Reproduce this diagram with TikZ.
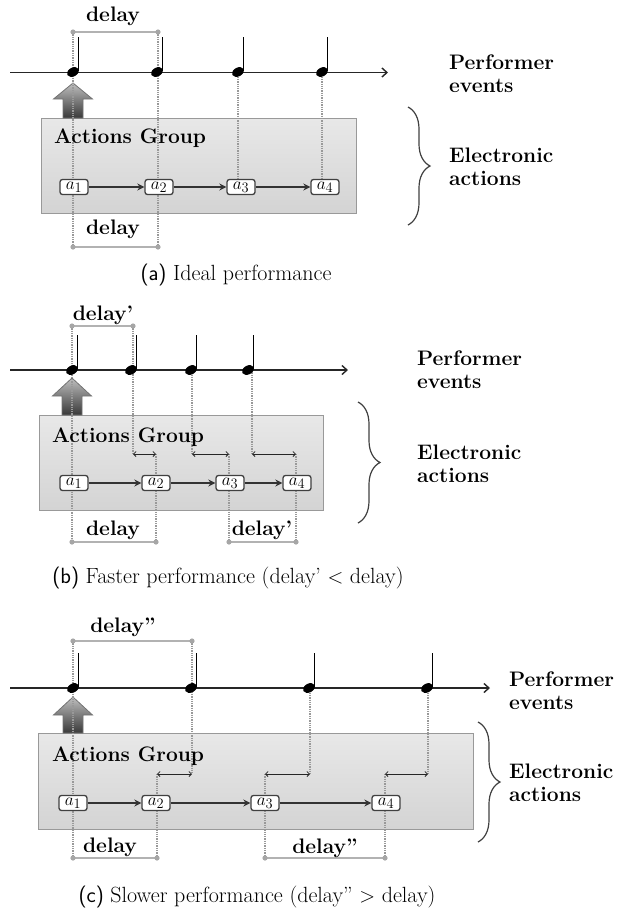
\documentclass[tikz,border=0pt]{standalone}
\usepackage{fontspec}
\usetikzlibrary{arrows.meta,decorations.pathreplacing}
\pgfdeclarelayer{bg}
\pgfdeclarelayer{mid}
\pgfsetlayers{bg,mid,main}
\newcommand{\qnote}[3]{%
  \coordinate (#1) at (#2,#3);
  \fill[black, rotate around={28:(#1)}] (#1) ellipse (6.4 and 4.4);
  \draw[line width=1.3pt] ([xshift=5.8pt,yshift=1pt]#1) -- ++(0,-34);
}
\newcommand{\bigup}[4]{%
  \path[bigarr] (#1-10,#4) -- (#1-10,#3) -- (#1-19.5,#3) -- (#1,#2) -- (#1+19.5,#3) -- (#1+10,#3) -- (#1+10,#4) -- cycle;
}
\newcommand{\brk}[2]{%
  \draw[bracket] (#1) -- (#2);
  \fill[black!35] (#1) circle (2.6) (#2) circle (2.6);
}
\tikzset{
 timeline/.style={line width=1.6pt, black!85, -{Straight Barb[length=5pt,width=9pt,line width=1.4pt]}},
 guide/.style={black!40, line width=1.3pt, dash pattern=on 1.3pt off 1pt},
 bracket/.style={black!30, line width=1.8pt},
 gbox/.style={draw=black!40, line width=0.9pt, top color=black!9, bottom color=black!17, inner sep=0pt},
 act/.style={draw=black!75, fill=white, rounded corners=2.5pt, line width=1.3pt, minimum width=28pt, minimum height=15pt, inner sep=0pt, font=\fontsize{19}{19}\selectfont},
 aarr/.style={line width=1.6pt, black!80, -{Stealth[length=7pt,width=7pt]}},
 dbl/.style={black!85, line width=0.8pt, {Straight Barb[length=2.5pt,width=5pt]}-{Straight Barb[length=2.5pt,width=5pt]}},
 lbl/.style={font=\fontsize{21}{23}\selectfont\bfseries, inner sep=0pt},
 side/.style={lbl, align=left, anchor=west},
 captxt/.style={font=\fontsize{22}{24}\selectfont, inner sep=0pt},
 brc/.style={black!75, line width=1.2pt, decorate, decoration={brace, amplitude=22pt, aspect=0.5}},
 bigarr/.style={draw=black!55, line width=0.8pt, top color=black!25, bottom color=black!78},
}
\begin{document}
\begin{tikzpicture}[x=1pt,y=-1pt]
\useasboundingbox (0,0) rectangle (621,914);
%================ panel (a)
\begin{pgfonlayer}{bg}
\node[gbox, minimum width=315pt, minimum height=95pt] (boxa) at (198.5,165.5) {};
\bigup{73}{83}{99}{118}
\end{pgfonlayer}
\node[lbl, anchor=west] (aga) at (54,138) {Actions Group};
\coordinate (ta0) at (10,72.5); \coordinate (ta1) at (388,72.5);
\coordinate (pa1) at (73,32); \coordinate (pa2) at (158,32);
\coordinate (qa1) at (73,247); \coordinate (qa2) at (158,247);
\draw[timeline] (ta0) -- (ta1);
\qnote{na1}{73}{72}\qnote{na2}{157}{72}\qnote{na3}{238}{72}\qnote{na4}{322}{72}
\node[act] (a1a) at (74,187) {$a_1$};
\node[act] (a2a) at (159,187) {$a_2$};
\node[act] (a3a) at (241,187) {$a_3$};
\node[act] (a4a) at (325,187) {$a_4$};
\draw[aarr] (a1a) -- (a2a); \draw[aarr] (a2a) -- (a3a); \draw[aarr] (a3a) -- (a4a);
\begin{pgfonlayer}{mid}
\draw[guide] (pa1) -- (qa1); \draw[guide] (pa2) -- (qa2);
\draw[guide] (na3) -- (na3 |- a3a.north); \draw[guide] (na4) -- (na4 |- a4a.north);
\end{pgfonlayer}
\brk{pa1}{pa2}\brk{qa1}{qa2}
\node[lbl] (da1) at (113,16) {delay};
\node[lbl] (da2) at (113,229) {delay};
\draw[brc] (408,107) -- (408,225);
\node[side] (pea) at (449,73.5) {Performer\\events};
\node[side] (eaa) at (449,166.5) {Electronic\\actions};
\node[captxt] (capa) at (236,275) {\textsf{(a)} Ideal performance};
%================ panel (b)
\begin{pgfonlayer}{bg}
\node[gbox, minimum width=284pt, minimum height=95pt] (boxb) at (181,462.5) {};
\bigup{72}{378}{396}{415}
\end{pgfonlayer}
\node[lbl, anchor=west] (agb) at (52,437) {Actions Group};
\coordinate (tb0) at (10,370); \coordinate (tb1) at (348,370);
\coordinate (pb1) at (72,326); \coordinate (pb2) at (133,326);
\coordinate (qb1) at (72,542); \coordinate (qb2) at (156,542);
\coordinate (qb3) at (229,542); \coordinate (qb4) at (296,542);
\coordinate (rb1) at (133,454); \coordinate (sb1) at (156,454);
\coordinate (rb2) at (192,454); \coordinate (sb2) at (229,454);
\coordinate (rb3) at (252,454); \coordinate (sb3) at (296,454);
\draw[timeline] (tb0) -- (tb1);
\qnote{nb1}{72}{370}\qnote{nb2}{131}{370}\qnote{nb3}{191}{370}\qnote{nb4}{248}{370}
\node[act] (a1b) at (74,483) {$a_1$};
\node[act] (a2b) at (156,483) {$a_2$};
\node[act] (a3b) at (230,483) {$a_3$};
\node[act] (a4b) at (297,483) {$a_4$};
\draw[aarr] (a1b) -- (a2b); \draw[aarr] (a2b) -- (a3b); \draw[aarr] (a3b) -- (a4b);
\begin{pgfonlayer}{mid}
\draw[guide] (pb1) -- (qb1);
\draw[guide] (pb2) -- (rb1);
\draw[guide] (rb2 |- nb3) -- (rb2);
\draw[guide] (rb3 |- nb4) -- (rb3);
\draw[guide] (sb1) -- (qb2); \draw[guide] (sb2) -- (qb3); \draw[guide] (sb3) -- (qb4);
\end{pgfonlayer}
\draw[dbl] (rb1) -- (sb1); \draw[dbl] (rb2) -- (sb2); \draw[dbl] (rb3) -- (sb3);
\brk{pb1}{pb2}\brk{qb1}{qb2}\brk{qb3}{qb4}
\node[lbl] (db1) at (103,315) {delay'};
\node[lbl] (db2) at (113,530) {delay};
\node[lbl] (db3) at (262,530) {delay'};
\draw[brc] (358,402) -- (358,523);
\node[side] (peb) at (417,370) {Performer\\events};
\node[side] (eab) at (417,464) {Electronic\\actions};
\node[captxt] (capb) at (228,578) {\textsf{(b)} Faster performance (delay' $<$ delay)};
%================ panel (c)
\begin{pgfonlayer}{bg}
\node[gbox, minimum width=435pt, minimum height=96pt] (boxc) at (255.5,781) {};
\bigup{73}{697}{715}{733}
\end{pgfonlayer}
\node[lbl, anchor=west] (agc) at (52,756) {Actions Group};
\coordinate (tc0) at (10,688); \coordinate (tc1) at (490,688);
\coordinate (pc1) at (73,641); \coordinate (pc2) at (192,641);
\coordinate (qc1) at (73,858); \coordinate (qc2) at (157,858);
\coordinate (qc3) at (265,858); \coordinate (qc4) at (385,858);
\coordinate (rc1) at (192,774); \coordinate (sc1) at (157,774);
\coordinate (rc2) at (310,774); \coordinate (sc2) at (265,774);
\coordinate (rc3) at (428,774); \coordinate (sc3) at (385,774);
\draw[timeline] (tc0) -- (tc1);
\qnote{nc1}{73}{688}\qnote{nc2}{191}{688}\qnote{nc3}{309}{688}\qnote{nc4}{427}{688}
\node[act] (a1c) at (73,803) {$a_1$};
\node[act] (a2c) at (156,803) {$a_2$};
\node[act] (a3c) at (265,803) {$a_3$};
\node[act] (a4c) at (386,803) {$a_4$};
\draw[aarr] (a1c) -- (a2c); \draw[aarr] (a2c) -- (a3c); \draw[aarr] (a3c) -- (a4c);
\begin{pgfonlayer}{mid}
\draw[guide] (pc1) -- (qc1);
\draw[guide] (pc2) -- (rc1);
\draw[guide] (rc2 |- nc3) -- (rc2);
\draw[guide] (rc3 |- nc4) -- (rc3);
\draw[guide] (sc1) -- (qc2); \draw[guide] (sc2) -- (qc3); \draw[guide] (sc3) -- (qc4);
\end{pgfonlayer}
\draw[dbl] (sc1) -- (rc1); \draw[dbl] (sc2) -- (rc2); \draw[dbl] (sc3) -- (rc3);
\brk{pc1}{pc2}\brk{qc1}{qc2}\brk{qc3}{qc4}
\node[lbl] (dc1) at (123,627) {delay''};
\node[lbl] (dc2) at (110,847) {delay};
\node[lbl] (dc3) at (325,848) {delay''};
\draw[brc] (478,722) -- (478,842);
\node[side] (pec) at (509,690.5) {Performer\\events};
\node[side] (eac) at (509,782.5) {Electronic\\actions};
\node[captxt] (capc) at (257,897) {\textsf{(c)} Slower performance (delay'' $>$ delay)};
\end{tikzpicture}
\end{document}
